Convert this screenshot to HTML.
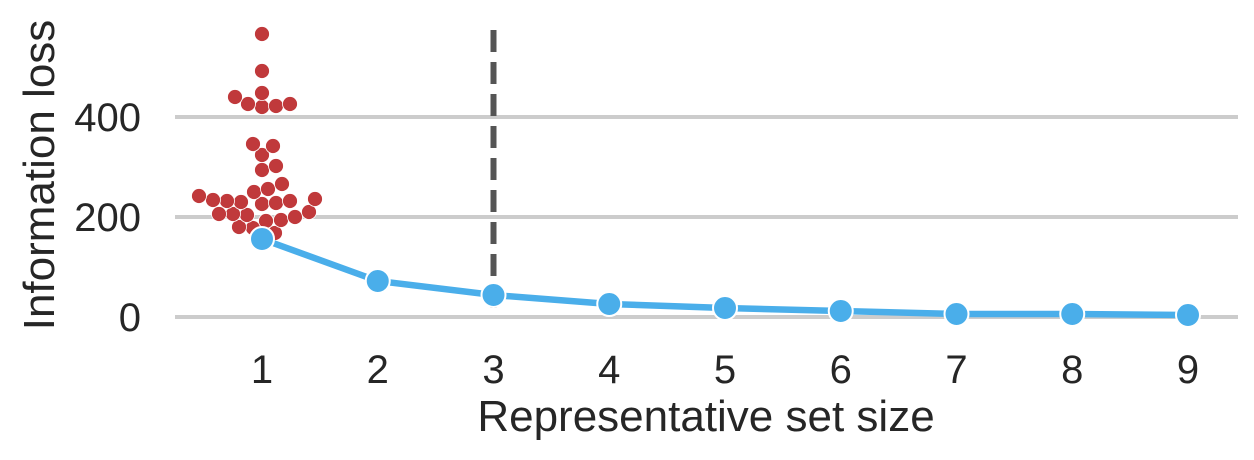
<!DOCTYPE html>
<html><head><meta charset="utf-8"><style>
html,body{margin:0;padding:0;background:#fff;}
svg{display:block;font-family:"Liberation Sans","DejaVu Sans",sans-serif;}
</style></head><body>
<svg id="chart" width="1254" height="460"></svg>
<script>
const xCategories=[1,2,3,4,5,6,7,8,9];
const lineValues=[156,72,44,26,18,12,6,6,4];
const swarmValues=[566,492,448,440,422,420,426,426,342,346,324,302,294,266,256,250,242,236,232,228,226,230,232,234,210,200,194,192,206,204,206,168,178,180,156];
const yTicks=[0,200,400];
const cutoff=3;
const NS="http://www.w3.org/2000/svg";
const svg=document.getElementById('chart');
const xs=v=>262+(v-1)*115.75;
const ys=v=>317-v*0.5;
function mk(t,a,p){const e=document.createElementNS(NS,t);for(const k in a)e.setAttribute(k,a[k]);(p||svg).appendChild(e);return e;}
yTicks.forEach(t=>{
 const g=mk('line',{x1:175,x2:1238,y1:ys(t),y2:ys(t),stroke:'#cccccc','stroke-width':4});
 
 
 const l=mk('text',{x:141,y:ys(t)+14,'text-anchor':'end','font-size':40,fill:'#262626'});l.textContent=t;
 
 
});
xCategories.forEach(c=>{
 const l=mk('text',{x:xs(c),y:383,'text-anchor':'middle','font-size':40,fill:'#262626'});l.textContent=c;
 
 
});
const xt=mk('text',{x:706,y:431,'text-anchor':'middle','font-size':44,fill:'#262626'});xt.textContent='Representative set size';


const yt=mk('text',{x:0,y:0,'text-anchor':'middle','font-size':44,fill:'#262626',transform:'translate(54,175) rotate(-90)'});yt.textContent='Information loss';


const dl=mk('line',{x1:xs(cutoff),x2:xs(cutoff),y1:30,y2:317,stroke:'#555555','stroke-width':6,'stroke-dasharray':'22,10'});


const r=7,placed=[];
const order=swarmValues.map((v,i)=>i).sort((a,b)=>swarmValues[a]-swarmValues[b]);
order.forEach(i=>{
 const y=ys(swarmValues[i]);let best=null;
 for(let k=0;k<200;k++){const off=(k%2?1:-1)*Math.ceil(k/2);const x=xs(1)+off;
  if(placed.every(p=>(p.x-x)**2+(p.y-y)**2>=(2*r)**2)){best=x;break;}}
 if(best===null)best=xs(1);
 placed.push({x:best,y:y});
});
placed.forEach(p=>{
 const c=mk('circle',{cx:p.x,cy:p.y,r:r+0.5,fill:'#c0393b',stroke:'#fff','stroke-width':0.8});
 
 
});
const pts=xCategories.map((c,i)=>xs(c)+','+ys(lineValues[i])).join(' ');
const pl=mk('polyline',{points:pts,fill:'none',stroke:'#4aaeea','stroke-width':6.5});


xCategories.forEach((c,i)=>{
 const m=mk('circle',{cx:xs(c),cy:ys(lineValues[i]),r:12,fill:'#4aaeea',stroke:'#fff','stroke-width':2});
 
 
});
</script>
</body></html>
